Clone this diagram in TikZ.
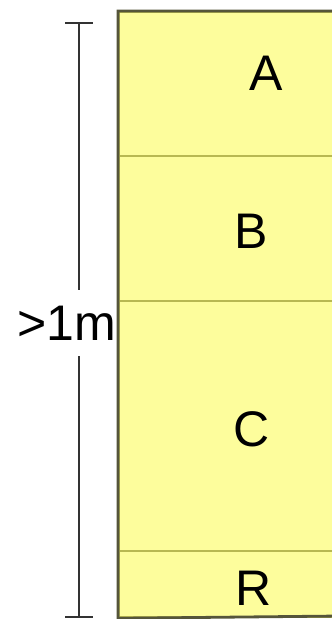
\documentclass[tikz,border=0pt]{standalone}
\usepackage{fontspec}
\setmainfont{Liberation Sans}
\definecolor{boxfill}{HTML}{FDFD9C}
\definecolor{divline}{HTML}{B8B852}
\definecolor{outline}{HTML}{55553A}
\definecolor{dimline}{HTML}{333333}
\tikzset{
  section/.style={draw=divline, line width=2.3pt, fill=boxfill, rectangle, inner sep=0pt, anchor=north west},
  lbl/.style={inner sep=0pt, anchor=base, font=\fontsize{50}{60}\selectfont},
  dimstyle/.style={draw=dimline, line width=2.1pt},
}
\begin{document}
\begin{tikzpicture}[x=1pt,y=1pt]
\useasboundingbox (0,0) rectangle (332,-619);
\fill[white] (0,0) rectangle (332,-619);
% dimension line
\coordinate (dimtop) at (79,-23);
\coordinate (dimbot) at (79,-617);
\draw[dimstyle] (dimtop) -- (dimbot);
\draw[dimstyle] ([xshift=-14pt]dimtop) -- ([xshift=14pt]dimtop);
\draw[dimstyle] ([xshift=-14pt]dimbot) -- ([xshift=14pt]dimbot);
\node[lbl, fill=white, inner ysep=16pt, anchor=base] (dim) at (67,-340) {>1m};
% sections
\node[section, minimum width=220pt, minimum height=144pt] (secA) at (118,-11) {};
\node[section, minimum width=220pt, minimum height=145pt] (secB) at (118,-155) {};
\node[section, minimum width=220pt, minimum height=250pt] (secC) at (118,-300) {};
\node[section, minimum width=220pt, minimum height=66pt] (secR) at (118,-550) {};
% outer border
\coordinate (otl) at (340,-11);
\coordinate (obl) at (340,-616);
\draw[outline, line width=2.8pt] (otl) -- (secA.north west) -- (secR.south west) -- (obl);
% labels
\node[lbl] (labA) at (266,-90) {A};
\node[lbl] (labB) at (251,-248) {B};
\node[lbl] (labC) at (252,-446) {C};
\node[lbl] (labR) at (254,-605) {R};
\end{tikzpicture}
\end{document}
